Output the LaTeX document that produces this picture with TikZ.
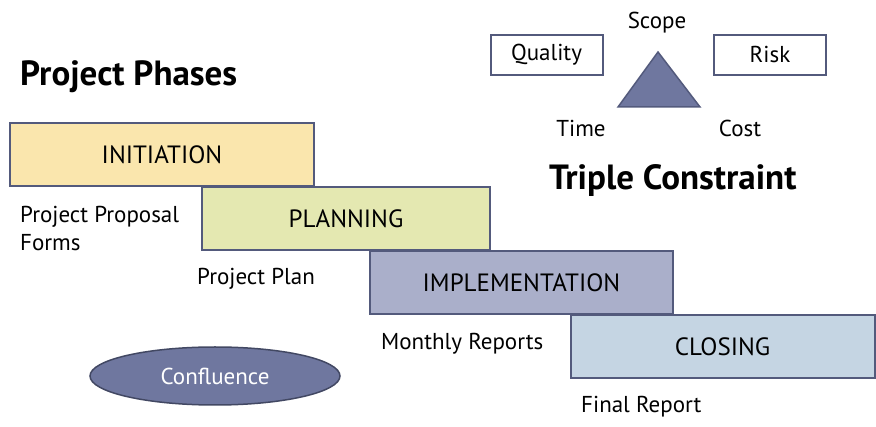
\documentclass[tikz,border=0pt]{standalone}
\usepackage{fontspec}
\setmainfont{PT Sans}
\usetikzlibrary{shapes.geometric}
\definecolor{edge}{HTML}{535A7C}
\definecolor{cinit}{HTML}{FAE6AD}
\definecolor{cplan}{HTML}{E4E8B1}
\definecolor{cimpl}{HTML}{AAAFCA}
\definecolor{cclos}{HTML}{C5D5E3}
\definecolor{cconf}{HTML}{6F779F}
\tikzset{
  phase/.style={draw=edge, line width=2pt, minimum width=#1, minimum height=63pt, inner sep=0pt, font=\fontsize{25}{28}\selectfont},
  smallbox/.style={draw=edge, line width=2pt, minimum width=112pt, minimum height=40pt, inner sep=0pt, font=\fontsize{23}{26}\selectfont},
  lbl/.style={inner sep=0pt, font=\fontsize{23}{28}\selectfont},
  ttl/.style={inner sep=0pt, font=\fontsize{35}{38}\selectfont\bfseries}
}
\begin{document}
\begin{tikzpicture}[x=1pt,y=-1pt]
\useasboundingbox (0,0) rectangle (876,427);
% phases
\node[phase=304pt, fill=cinit] (init) at (162,155) {INITIATION};
\node[phase=288pt, fill=cplan] (plan) at (346,218.5) {PLANNING};
\node[phase=303pt, fill=cimpl] (impl) at (521.5,282.5) {IMPLEMENTATION};
\node[phase=304pt, fill=cclos] (clos) at (722.5,347) {CLOSING};
% titles
\node[ttl, anchor=west] (pp) at (20,77) {Project Phases};
\node[ttl, anchor=west] (tc) at (549,181) {Triple Constraint};
% deliverables
\node[lbl, anchor=north west, align=left] (ppf) at (20,206) {Project Proposal\\Forms};
\node[lbl, anchor=west] (pplan) at (197,279) {Project Plan};
\node[lbl, anchor=west] (mr) at (381,344) {Monthly Reports};
\node[lbl, anchor=west] (fr) at (581,407) {Final Report};
% confluence
\node[ellipse, draw=edge!80!black, line width=1.5pt, fill=cconf, minimum width=250pt, minimum height=58pt, inner sep=0pt, text=white, font=\fontsize{23}{26}\selectfont] (conf) at (215,376) {Confluence};
% triple constraint
\node[smallbox] (qual) at (546.5,55) {Quality};
\node[smallbox] (risk) at (770,55) {Risk};
\draw[fill=cconf, draw=edge, line width=1.5pt, line join=miter] (658,52) -- (700,107) -- (618,107) -- cycle;
\node[lbl] (scope) at (657,23) {Scope};
\node[lbl] (time) at (581,128) {Time};
\node[lbl] (cost) at (740,128) {Cost};
\end{tikzpicture}
\end{document}
